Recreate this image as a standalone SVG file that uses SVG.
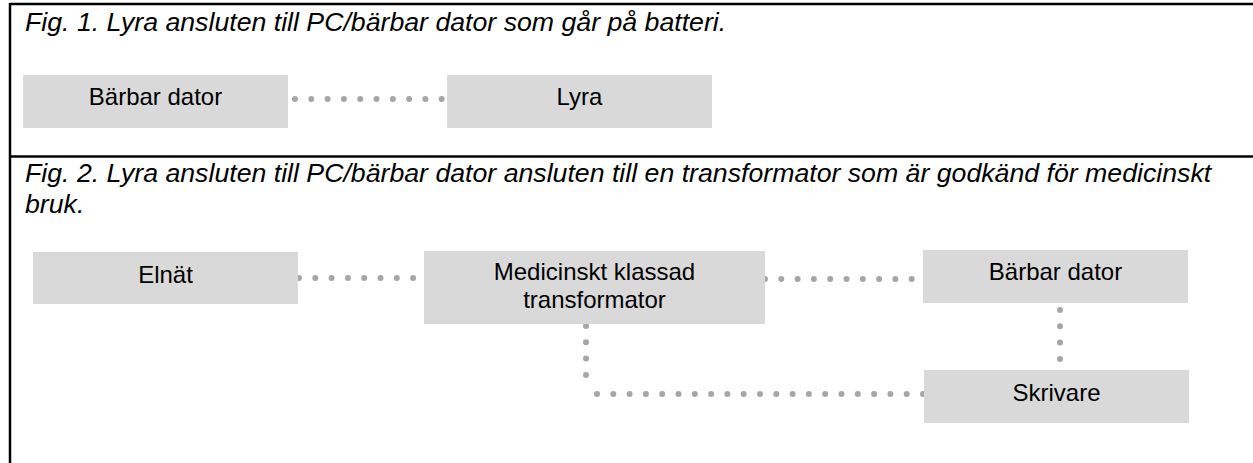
<svg xmlns="http://www.w3.org/2000/svg" width="1253" height="463" viewBox="0 0 1253 463">
<style>
.frame{stroke:#000;stroke-width:2.5;fill:none}
.box{fill:#d9d9d9}
.lbl{font-family:"Liberation Sans",Arial,sans-serif;font-size:24px;fill:#000;text-anchor:middle}
.title{font-family:"Liberation Sans",Arial,sans-serif;font-size:26.7px;font-style:italic;fill:#000}
.dot{stroke:#a6a6a6;stroke-width:6;stroke-linecap:round;fill:none;stroke-dasharray:0 16.3}
</style>
<rect width="1253" height="463" fill="#fff"/>
<g id="frame">
<line class="frame" x1="10" y1="4" x2="1253" y2="4"/>
<line class="frame" x1="10" y1="3" x2="10" y2="463"/>
<line class="frame" x1="10" y1="156.5" x2="1253" y2="156.5"/>
</g>
<text class="title" x="25" y="31">Fig. 1. Lyra ansluten till PC/bärbar dator som går på batteri.</text>
<text class="title" x="25" y="182">Fig. 2. Lyra ansluten till PC/bärbar dator ansluten till en transformator som är godkänd för medicinskt</text>
<text class="title" x="25" y="213">bruk.</text>
<g id="connectors">
<path class="dot" d="M295,99 L447,99"/>
<path class="dot" d="M299,278 L424,278"/>
<path class="dot" d="M765,279 L923,279"/>
<path class="dot" d="M1060,310 L1060,370"/>
<path class="dot" d="M586,326 L586,388"/>
<path class="dot" d="M597,394 L924,394"/>
</g>
<g id="n-laptop1"><rect class="box" x="23" y="75" width="265" height="53"/><text class="lbl" x="155.5" y="105">Bärbar dator</text></g>
<g id="n-lyra"><rect class="box" x="447" y="75" width="265" height="53"/><text class="lbl" x="579.5" y="105">Lyra</text></g>
<g id="n-elnat"><rect class="box" x="33" y="252" width="265" height="52"/><text class="lbl" x="165.5" y="283">Elnät</text></g>
<g id="n-transformer"><rect class="box" x="424" y="251" width="341" height="73"/><text class="lbl" x="594.5" y="280">Medicinskt klassad</text><text class="lbl" x="594.5" y="308">transformator</text></g>
<g id="n-laptop2"><rect class="box" x="923" y="250" width="265" height="53"/><text class="lbl" x="1055.5" y="280">Bärbar dator</text></g>
<g id="n-printer"><rect class="box" x="924" y="370" width="265" height="53"/><text class="lbl" x="1056.5" y="401">Skrivare</text></g>
</svg>
